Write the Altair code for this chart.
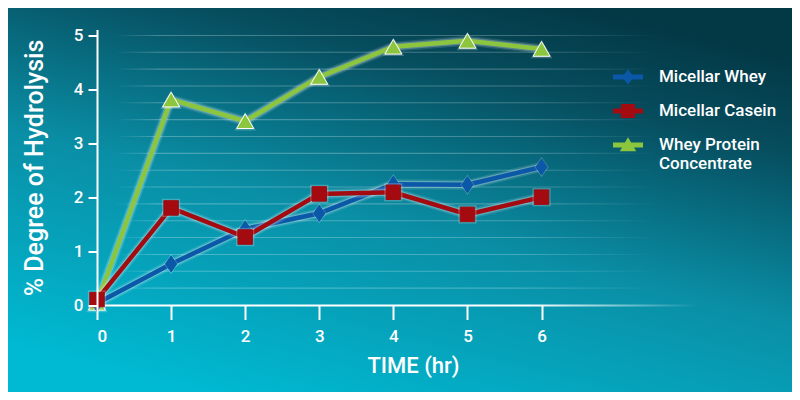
import altair as alt
import pandas as pd

# ---- data ----
time_hr = [0, 1, 2, 3, 4, 5, 6]
micellar_whey = [0.04, 0.77, 1.42, 1.71, 2.25, 2.24, 2.57]
micellar_casein = [0.11, 1.81, 1.27, 2.07, 2.10, 1.69, 2.01]
whey_protein_conc = [0.05, 3.82, 3.42, 4.24, 4.80, 4.91, 4.76]

series_names = ["Micellar Whey", "Micellar Casein", "Whey Protein Concentrate"]
series_colors = ["#0b57a8", "#a30b11", "#8cc63f"]
y_ticks = [0, 1, 2, 3, 4, 5]
x_ticks = [0, 1, 2, 3, 4, 5, 6]
grid_values = [5 - k * 0.3125 for k in range(16)]

rows = []
for name, vals in zip(series_names, [micellar_whey, micellar_casein, whey_protein_conc]):
    for t, v in zip(time_hr, vals):
        rows.append({"series": name, "time": t, "value": v})
df = pd.DataFrame(rows)

W, H = 632, 276
PAD = {"left": 89, "top": 21.5, "right": 63, "bottom": 86.5}
FONT = "Roboto"

xscale = alt.Scale(domain=[0, 8.53], nice=False)
yscale = alt.Scale(domain=[0, 5.12], nice=False)

x_axis = alt.Axis(values=x_ticks, title="TIME (hr)", domain=False, grid=False,
                  tickColor="white", tickSize=14, tickWidth=2,
                  labelPadding=9, titlePadding=11, format="d", zindex=2)
y_axis = alt.Axis(values=y_ticks, title="% Degree of Hydrolysis", grid=False,
                  domainColor="white", domainWidth=2,
                  tickColor="white", tickSize=9, tickWidth=2,
                  labelPadding=5, titlePadding=26, format="d", zindex=2)


def X(field="time"):
    return alt.X(f"{field}:Q", scale=xscale, axis=x_axis, title="TIME (hr)")


def Y(field="value"):
    return alt.Y(f"{field}:Q", scale=yscale, axis=y_axis, title="% Degree of Hydrolysis")


# ---- background gradient ----
bg = alt.Chart(pd.DataFrame({"a": [0]})).mark_rect(
    color=alt.LinearGradient(
        gradient="linear",
        x1=0.25, y1=1, x2=0.75, y2=0,
        stops=[
            alt.GradientStop(color="#00b9d2", offset=0),
            alt.GradientStop(color="#0a8ea5", offset=0.45),
            alt.GradientStop(color="#064d5e", offset=0.8),
            alt.GradientStop(color="#033845", offset=1),
        ],
    )
).encode(
    x=alt.value(-PAD["left"]), x2=alt.value(W + PAD["right"]),
    y=alt.value(-PAD["top"]), y2=alt.value(H + PAD["bottom"]),
)

# ---- faint fading gridlines ----
grid = alt.Chart(pd.DataFrame({"g": grid_values})).transform_calculate(
    g2="datum.g + 0.02"
).mark_rect(
    color=alt.LinearGradient(
        gradient="linear", x1=0, y1=0, x2=1, y2=0,
        stops=[
            alt.GradientStop(color="rgba(255,255,255,0)", offset=0),
            alt.GradientStop(color="rgba(255,255,255,0.26)", offset=0.08),
            alt.GradientStop(color="rgba(255,255,255,0.24)", offset=0.75),
            alt.GradientStop(color="rgba(255,255,255,0)", offset=1),
        ],
    )
).encode(
    x=alt.value(18), x2=alt.value(560),
    y=Y("g"),
    y2="g2:Q",
)

# ---- x axis line fading out ----
xline = alt.Chart(pd.DataFrame({"a": [0]})).mark_rect(
    color=alt.LinearGradient(
        gradient="linear", x1=0, y1=0, x2=1, y2=0,
        stops=[
            alt.GradientStop(color="rgba(255,255,255,1)", offset=0),
            alt.GradientStop(color="rgba(255,255,255,1)", offset=0.72),
            alt.GradientStop(color="rgba(255,255,255,0)", offset=1),
        ],
    )
).encode(
    x=alt.value(-1), x2=alt.value(600),
    y=alt.value(H - 1), y2=alt.value(H + 1),
)

shapes = {
    "Micellar Whey": "M0,-1.15L0.8,0L0,1.15L-0.8,0Z",
    "Micellar Casein": "square",
    "Whey Protein Concentrate": "triangle-up",
}
sizes = {"Micellar Whey": 196, "Micellar Casein": 210, "Whey Protein Concentrate": 290}
color_of = dict(zip(series_names, series_colors))

layers = [bg, grid, xline]
for name in ["Whey Protein Concentrate", "Micellar Whey", "Micellar Casein"]:
    base = alt.Chart(df).transform_filter(alt.datum.series == name)
    enc = dict(x=X(), y=Y())
    layers.append(base.mark_line(color="white", strokeWidth=10, opacity=0.12,
                                 strokeCap="round", strokeJoin="round").encode(**enc))
    layers.append(base.mark_line(color="white", strokeWidth=7, opacity=0.25,
                                 strokeCap="round", strokeJoin="round").encode(**enc))
    layers.append(base.mark_line(color=color_of[name], strokeWidth=4.5).encode(**enc))
    layers.append(base.mark_point(shape=shapes[name], size=sizes[name] * 1.6, filled=True,
                                  color="white", opacity=0.22).encode(**enc))
    layers.append(base.mark_point(shape=shapes[name], size=sizes[name], filled=True,
                                  color=color_of[name], opacity=1,
                                  stroke="white" if name == "Whey Protein Concentrate" else color_of[name],
                                  strokeWidth=1).encode(**enc))

# ---- legend (from library legend, custom line+marker symbols) ----
legend_paths = [
    "M-1,-0.17L1,-0.17L1,0.17L-1,0.17Z M0,-0.5L0.4,0L0,0.5L-0.4,0Z",
    "M-1,-0.17L1,-0.17L1,0.17L-1,0.17Z M-0.47,-0.47L0.47,-0.47L0.47,0.47L-0.47,0.47Z",
    "M-1,-0.17L1,-0.17L1,0.17L-1,0.17Z M0,-0.52L0.55,0.42L-0.55,0.42Z",
]
leg = alt.Legend(
    title=None, orient="none", legendX=515, legendY=31.5, direction="vertical",
    symbolSize=900, symbolOpacity=1, symbolStrokeColor="rgba(255,255,255,0.35)",
    symbolStrokeWidth=1.5, labelColor="white", labelFont=FONT, labelFontSize=17,
    labelFontWeight=500, labelOffset=15, rowPadding=7, padding=0, labelLimit=200,
    labelExpr="datum.label == 'Whey Protein Concentrate' ? ['Whey Protein', 'Concentrate'] : datum.label",
)
legend_layer = alt.Chart(df).mark_point(filled=True, opacity=0).encode(
    x=X(), y=Y(),
    color=alt.Color("series:N", scale=alt.Scale(domain=series_names, range=series_colors),
                    legend=leg, sort=series_names),
    shape=alt.Shape("series:N", scale=alt.Scale(domain=series_names, range=legend_paths),
                    legend=leg, sort=series_names),
)
layers.append(legend_layer)

chart = alt.layer(*layers).properties(
    width=W, height=H,
    autosize=alt.AutoSizeParams(type="none"),
    padding=PAD,
    background="#0a7f95",
).configure_view(stroke=None).configure_axis(
    labelColor="white", titleColor="white", labelFont=FONT, titleFont=FONT,
    labelFontSize=17, titleFontSize=25, labelFontWeight=500, titleFontWeight=500,
).configure_axisX(titleFontSize=22)

chart.save("out.html", embed_options={"renderer": "svg", "actions": False})
